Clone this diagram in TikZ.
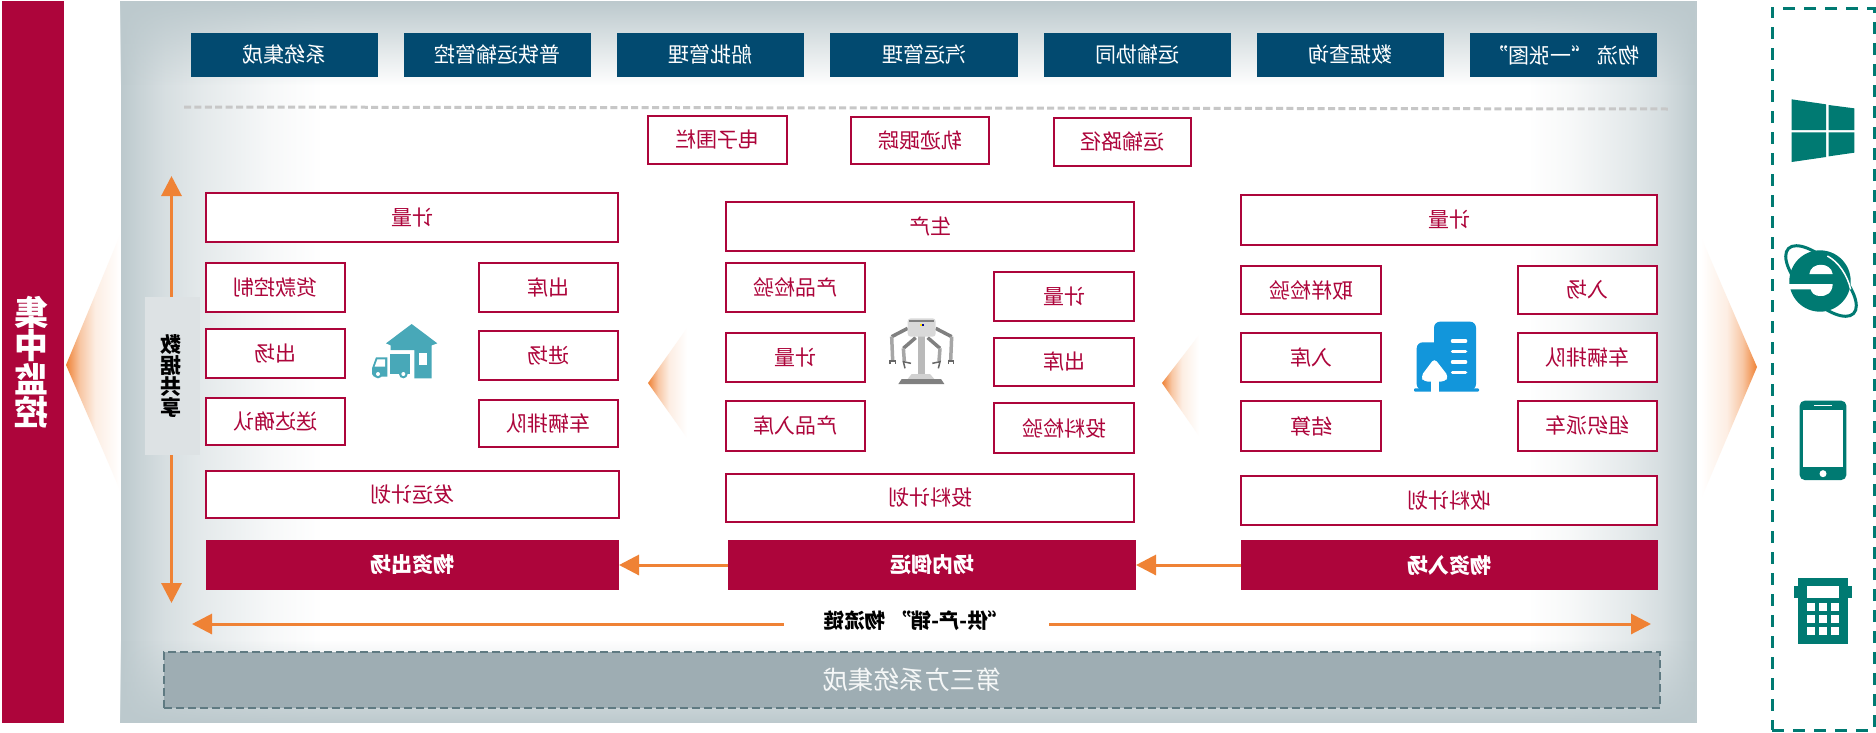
\documentclass[tikz,border=0pt]{standalone}
\usepackage{graphicx}
\usepackage{fontspec}
\setmainfont{Noto Sans CJK SC}
\usetikzlibrary{arrows.meta,fadings,shapes.geometric}
\definecolor{crimson}{HTML}{AD053B}
\definecolor{navyband}{HTML}{024A70}
\definecolor{panelgrey}{HTML}{BCC9CD}
\definecolor{flow}{HTML}{EF8235}
\definecolor{slategrey}{HTML}{9EADB3}
\definecolor{slateedge}{HTML}{5F7A82}
\definecolor{tealedge}{HTML}{007A72}
\definecolor{storeteal}{HTML}{48A8B8}
\definecolor{cloudblue}{HTML}{1296DB}
\definecolor{sharegrey}{HTML}{DDE2E4}
% Side fades of the panel: steep near the edge, long tail towards the centre
\pgfdeclarehorizontalshading{edgefadeL}{100bp}{color(0bp)=(white); color(25bp)=(white); color(30bp)=(white!80!black); color(36bp)=(white!60!black); color(45bp)=(white!40!black); color(62.5bp)=(white!12!black); color(75bp)=(black); color(100bp)=(black)}
\pgfdeclarehorizontalshading{edgefadeR}{100bp}{color(0bp)=(black); color(25bp)=(black); color(37.5bp)=(white!12!black); color(55bp)=(white!40!black); color(64bp)=(white!60!black); color(70bp)=(white!80!black); color(75bp)=(white); color(100bp)=(white)}
\tikzfading[name=fadeleft,shading=edgefadeL]
\tikzfading[name=faderight,shading=edgefadeR]
\tikzfading[name=fadetop,top color=transparent!0,bottom color=transparent!100]
\tikzfading[name=fadebottom,top color=transparent!100,bottom color=transparent!0]
% Orange wedges: colour stays close to the tip and dies away quickly
\pgfdeclarehorizontalshading{wedgeright}{100bp}{color(0bp)=(flow); color(25bp)=(flow); color(38bp)=(flow!45!white); color(52bp)=(flow!14!white); color(75bp)=(white); color(100bp)=(white)}
\pgfdeclarehorizontalshading{wedgeleft}{100bp}{color(0bp)=(white); color(25bp)=(white); color(48bp)=(flow!14!white); color(62bp)=(flow!45!white); color(75bp)=(flow); color(100bp)=(flow)}
\tikzset{
  base text/.style={inner sep=0pt,font=\fontsize{21}{25}\selectfont,line width=2pt},
  lbox/.style={base text,draw=crimson,fill=white,text=crimson},
  redbar/.style={base text,draw=crimson,fill=crimson,text=white,font=\fontsize{21}{25}\selectfont\bfseries},
  navybox/.style={base text,draw=navyband,fill=navyband,text=white},
  flowline/.style={draw=flow,line width=3pt},
  flowarrow/.style={flowline,-{Triangle[length=20pt,width=20pt]},shorten >=0pt},
  iconfill/.style={fill=tealedge,draw=none},
}
% Box given by its outer corners; the caption is set in reverse
\newcommand\boxnode[7][lbox]{%
  \pgfmathsetmacro\bw{#5-#3-2}%
  \pgfmathsetmacro\bh{#6-#4-2}%
  \node[#1,minimum width=\bw pt,minimum height=\bh pt] (#2) at ({(#3+#5)/2},{(#4+#6)/2}) {\reflectbox{#7}};}
\begin{document}
\begin{tikzpicture}[x=1pt,y=-1pt]
\useasboundingbox (0,0) rectangle (1876,732);
\fill[white] (0,0) rectangle (1876,732);

% Panel with soft grey edges
\fill[white] (121,1) rectangle (1697,723);
\fill[panelgrey,path fading=fadeleft] (121,1) rectangle (320,723);
\fill[panelgrey,path fading=faderight] (1530,1) rectangle (1697,723);
\fill[panelgrey,path fading=fadetop] (121,1) rectangle (1697,85);
\fill[panelgrey,path fading=fadebottom] (121,640) rectangle (1697,723);

% Orange wedges
\shade[shading=wedgeright] (66,365) -- (120,235) -- (120,490) -- cycle;
\shade[shading=wedgeleft] (1701,237) -- (1757,367) -- (1701,499) -- cycle;
\shade[shading=wedgeright] (648,383) -- (687,328) -- (687,438) -- cycle;
\shade[shading=wedgeright] (1162,383) -- (1199,335) -- (1199,436) -- cycle;

% Left bar
\node[fill=crimson,minimum width=62pt,minimum height=722pt,inner sep=0pt] (bar) at (33,362) {};
\node[inner sep=0pt,text=white,align=center,font=\fontsize{34}{33.5}\selectfont\bfseries] (barlabel) at (31.5,362)
  {\reflectbox{集}\\\reflectbox{中}\\\reflectbox{监}\\\reflectbox{控}};

% Application row
\boxnode[navybox]{sysint}{191}{33}{378}{77}{系统集成}
\boxnode[navybox]{rail}{404}{33}{591}{77}{普铁运输管控}
\boxnode[navybox]{ship}{617}{33}{804}{77}{船批管理}
\boxnode[navybox]{truck}{830}{33}{1018}{77}{汽运管理}
\boxnode[navybox]{coop}{1044}{33}{1231}{77}{运输协同}
\boxnode[navybox]{query}{1257}{33}{1444}{77}{数据查询}
\boxnode[navybox]{onemap}{1470}{33}{1657}{77}{物流 “一张图”}
\draw[draw=black!22,line width=3pt,dash pattern=on 7pt off 3.4pt] (184,107) coordinate (sepL) -- (1671,109) coordinate (sepR);

% Tracking functions
\boxnode{fence}{647}{115}{788}{165}{电子围栏}
\boxnode{track}{850}{116}{990}{165}{轨迹跟踪}
\boxnode{route}{1053}{117}{1192}{167}{运输路径}

% Outbound column
\boxnode{oM}{205}{192}{619}{243}{计量}
\boxnode{oA}{205}{262}{346}{313}{货款控制}
\boxnode{oB}{478}{262}{619}{313}{出库}
\boxnode{oC}{205}{328}{346}{379}{出场}
\boxnode{oD}{478}{330}{619}{381}{进场}
\boxnode{oE}{205}{397}{346}{446}{送达确认}
\boxnode{oF}{478}{399}{619}{448}{车辆排队}
\boxnode{oP}{205}{470}{620}{519}{发运计划}
\boxnode[redbar]{outb}{206}{540}{619}{590}{物资出场}

% In-plant column
\boxnode{mM}{725}{201}{1135}{252}{生产}
\boxnode{mA}{725}{262}{866}{313}{产品检验}
\boxnode{mB}{993}{271}{1135}{322}{计量}
\boxnode{mC}{725}{332}{866}{383}{计量}
\boxnode{mD}{993}{337}{1135}{387}{出库}
\boxnode{mE}{725}{400}{866}{452}{产品入库}
\boxnode{mF}{993}{402}{1135}{454}{投料检验}
\boxnode{mP}{725}{473}{1135}{523}{投料计划}
\boxnode[redbar]{midb}{728}{540}{1136}{590}{场内倒运}

% Inbound column
\boxnode{iM}{1240}{194}{1658}{246}{计量}
\boxnode{iA}{1240}{265}{1382}{315}{取样检验}
\boxnode{iB}{1517}{265}{1658}{315}{入场}
\boxnode{iC}{1240}{332}{1382}{383}{入库}
\boxnode{iD}{1517}{332}{1658}{383}{车辆排队}
\boxnode{iE}{1240}{400}{1382}{452}{结算}
\boxnode{iF}{1517}{400}{1658}{452}{组织派车}
\boxnode{iP}{1240}{475}{1658}{526}{收料计划}
\boxnode[redbar]{inb}{1241}{540}{1658}{590}{物资入场}

% Data sharing strip and its arrows
\node[fill=sharegrey,minimum width=55pt,minimum height=158pt,inner sep=0pt] (share) at (172.5,376) {};
\node[inner sep=0pt,align=center,font=\fontsize{21}{21}\selectfont\bfseries] (sharelabel) at (170.5,376)
  {\reflectbox{数}\\\reflectbox{据}\\\reflectbox{共}\\\reflectbox{享}};
\coordinate (upEnd) at (171.5,176);
\coordinate (downEnd) at (171.5,603);
\draw[flowarrow] (upEnd |- share.north) -- (upEnd);
\draw[flowarrow] (downEnd |- share.south) -- (downEnd);

% Material flow between the stages
\draw[flowarrow] (inb.west) -- (midb.east);
\draw[flowarrow] (midb.west) -- (outb.east);

% Supply chain line
\node[minimum width=265pt,minimum height=30pt,inner sep=0pt,font=\fontsize{20.5}{24}\selectfont\bfseries] (chain) at (916.5,621) {\reflectbox{“供-产-销” 物流链}};
\coordinate (chainL) at (192,624);
\coordinate (chainR) at (1651,624);
\draw[flowarrow] (chain.west |- chainL) -- (chainL);
\draw[flowarrow] (chain.east |- chainR) -- (chainR);

% Third-party band
\node[fill=slategrey,draw=slateedge,line width=2pt,dash pattern=on 8pt off 4pt,inner sep=0pt,
      minimum width=1496pt,minimum height=56pt,text=white!90!slategrey,font=\fontsize{25.5}{30}\selectfont] (third) at (912,680) {\reflectbox{第三方系统集成}};

% Client devices frame
\node[draw=tealedge,line width=3pt,dash pattern=on 12pt off 9pt,minimum width=102pt,minimum height=722pt,inner sep=0pt] (clients) at (1823,369) {};

% Warehouse and truck
\begin{scope}[shift={(350,300)},x=1/3*1pt,y=-1/3*1pt]
  \fill[storeteal] (185,72) -- (262,130) -- (245,136) -- (245,235) -- (193,235) -- (193,150) -- (122,150) -- (122,136) -- (108,130) -- cycle;
  \fill[white] (208,160) rectangle (232,195);
  \fill[storeteal] (119,162) rectangle (181,222);
  \fill[storeteal] (66,222) -- (66,205) -- (78,172) -- (112,172) -- (112,230) -- (72,230) -- cycle;
  \fill[white] (82,178) -- (105,178) -- (105,200) -- (74,200) -- cycle;
  \fill[storeteal] (84,222) circle (13);
  \fill[white] (84,222) circle (6);
  \fill[storeteal] (160,222) circle (13);
  \fill[white] (160,222) circle (6);
\end{scope}

% Robot arms
\begin{scope}[shift={(870,300)},x=1/3*1pt,y=-1/3*1pt]
  \draw[black!50,line width=3.5pt] (113,85) -- (65,110);
  \draw[black!50,line width=3.5pt] (197,85) -- (245,110);
  \draw[black!35,line width=3.5pt] (65,110) -- (68,182);
  \draw[black!35,line width=3.5pt] (245,110) -- (242,182);
  \draw[black!50,line width=3.5pt] (137,113) -- (100,145);
  \draw[black!50,line width=3.5pt] (173,113) -- (210,145);
  \draw[black!35,line width=3.5pt] (100,145) -- (103,183);
  \draw[black!35,line width=3.5pt] (210,145) -- (207,183);
  \draw[black!60,line width=1.5pt] (60,192) -- (60,183) -- (76,183) -- (76,192);
  \draw[black!60,line width=1.5pt] (235,192) -- (235,183) -- (250,183) -- (250,192);
  \draw[black!60,line width=1.5pt] (105,205) -- (100,185) -- (123,190);
  \draw[black!60,line width=1.5pt] (205,205) -- (210,185) -- (187,190);
  \fill[black!27] (143,105) rectangle (165,225);
  \fill[black!15,rounded corners=3pt] (113,55) rectangle (197,110);
  \fill[black!50] (117,60) rectangle (193,67);
  \fill[yellow!80!orange] (149,71) rectangle (155,77);
  \fill[blue!60!black] (155,71) rectangle (161,77);
  \fill[black!18] (113,237) -- (125,222) -- (180,222) -- (193,237) -- cycle;
  \fill[black!50] (85,252) -- (95,237) -- (213,237) -- (223,252) -- cycle;
\end{scope}

% Office building
\begin{scope}[shift={(1400,310)},x=1/3*1pt,y=-1/3*1pt]
  \fill[cloudblue,rounded corners=6pt] (102,240) -- (102,35) -- (228,35) -- (228,240) -- cycle;
  \fill[cloudblue,rounded corners=6pt] (50,240) -- (50,97) -- (120,97) -- (120,240) -- cycle;
  \fill[cloudblue,rounded corners=1pt] (42,235) rectangle (237,245);
  \foreach \ly in {93,125,156,187}
    \draw[white,line width=3.2pt,line cap=round] (157,\ly) -- (197,\ly);
  \fill[white,rounded corners=4pt] (103,145) -- (62,200) -- (72,215) -- (134,215) -- (146,200) -- cycle;
  \fill[white] (92,210) rectangle (118,246);
\end{scope}

% Windows logo
\begin{scope}[shift={(1770,80)},x=1/3*1pt,y=-1/3*1pt]
  \fill[tealedge] (65,58) -- (168,73) -- (168,150) -- (65,150) -- cycle;
  \fill[tealedge] (176,75) -- (253,85) -- (253,150) -- (176,150) -- cycle;
  \fill[tealedge] (65,157) -- (168,157) -- (168,231) -- (65,246) -- cycle;
  \fill[tealedge] (176,157) -- (253,157) -- (253,218) -- (176,229) -- cycle;
  % Browser logo
  \draw[tealedge,line width=3pt,rotate around={-45:(153,603)}] (153,603) ellipse [x radius=138,y radius=58];
  \fill[tealedge] (150,603) circle (92);
  \draw[white,line width=1.5pt] (172,528) .. controls (205,545) and (232,585) .. (242,628);
  \fill[white] (118,582) .. controls (122,545) and (183,545) .. (188,582) -- cycle;
  \fill[white] (55,612) -- (188,612) .. controls (188,640) and (165,650) .. (150,648) .. controls (135,648) and (125,640) .. (122,628) -- (55,628) -- cycle;
\end{scope}

% Phone and calculator
\begin{scope}[shift={(1770,380)},x=1/3*1pt,y=-1/3*1pt]
  \fill[tealedge,rounded corners=5pt] (89,62) rectangle (229,300);
  \fill[white] (99,91) rectangle (219,262);
  \fill[white] (132,75) rectangle (186,79);
  \fill[white] (159,281) circle (10.5);
  \fill[tealedge] (85,594) rectangle (233,792);
  \fill[tealedge] (72,618) rectangle (246,655);
  \fill[white] (110,618) rectangle (208,655);
  \foreach \bx in {110,147,184}
    \foreach \by in {668,705,742}
      \fill[white] (\bx,\by) rectangle ++(24,24);
\end{scope}
\end{tikzpicture}
\end{document}
